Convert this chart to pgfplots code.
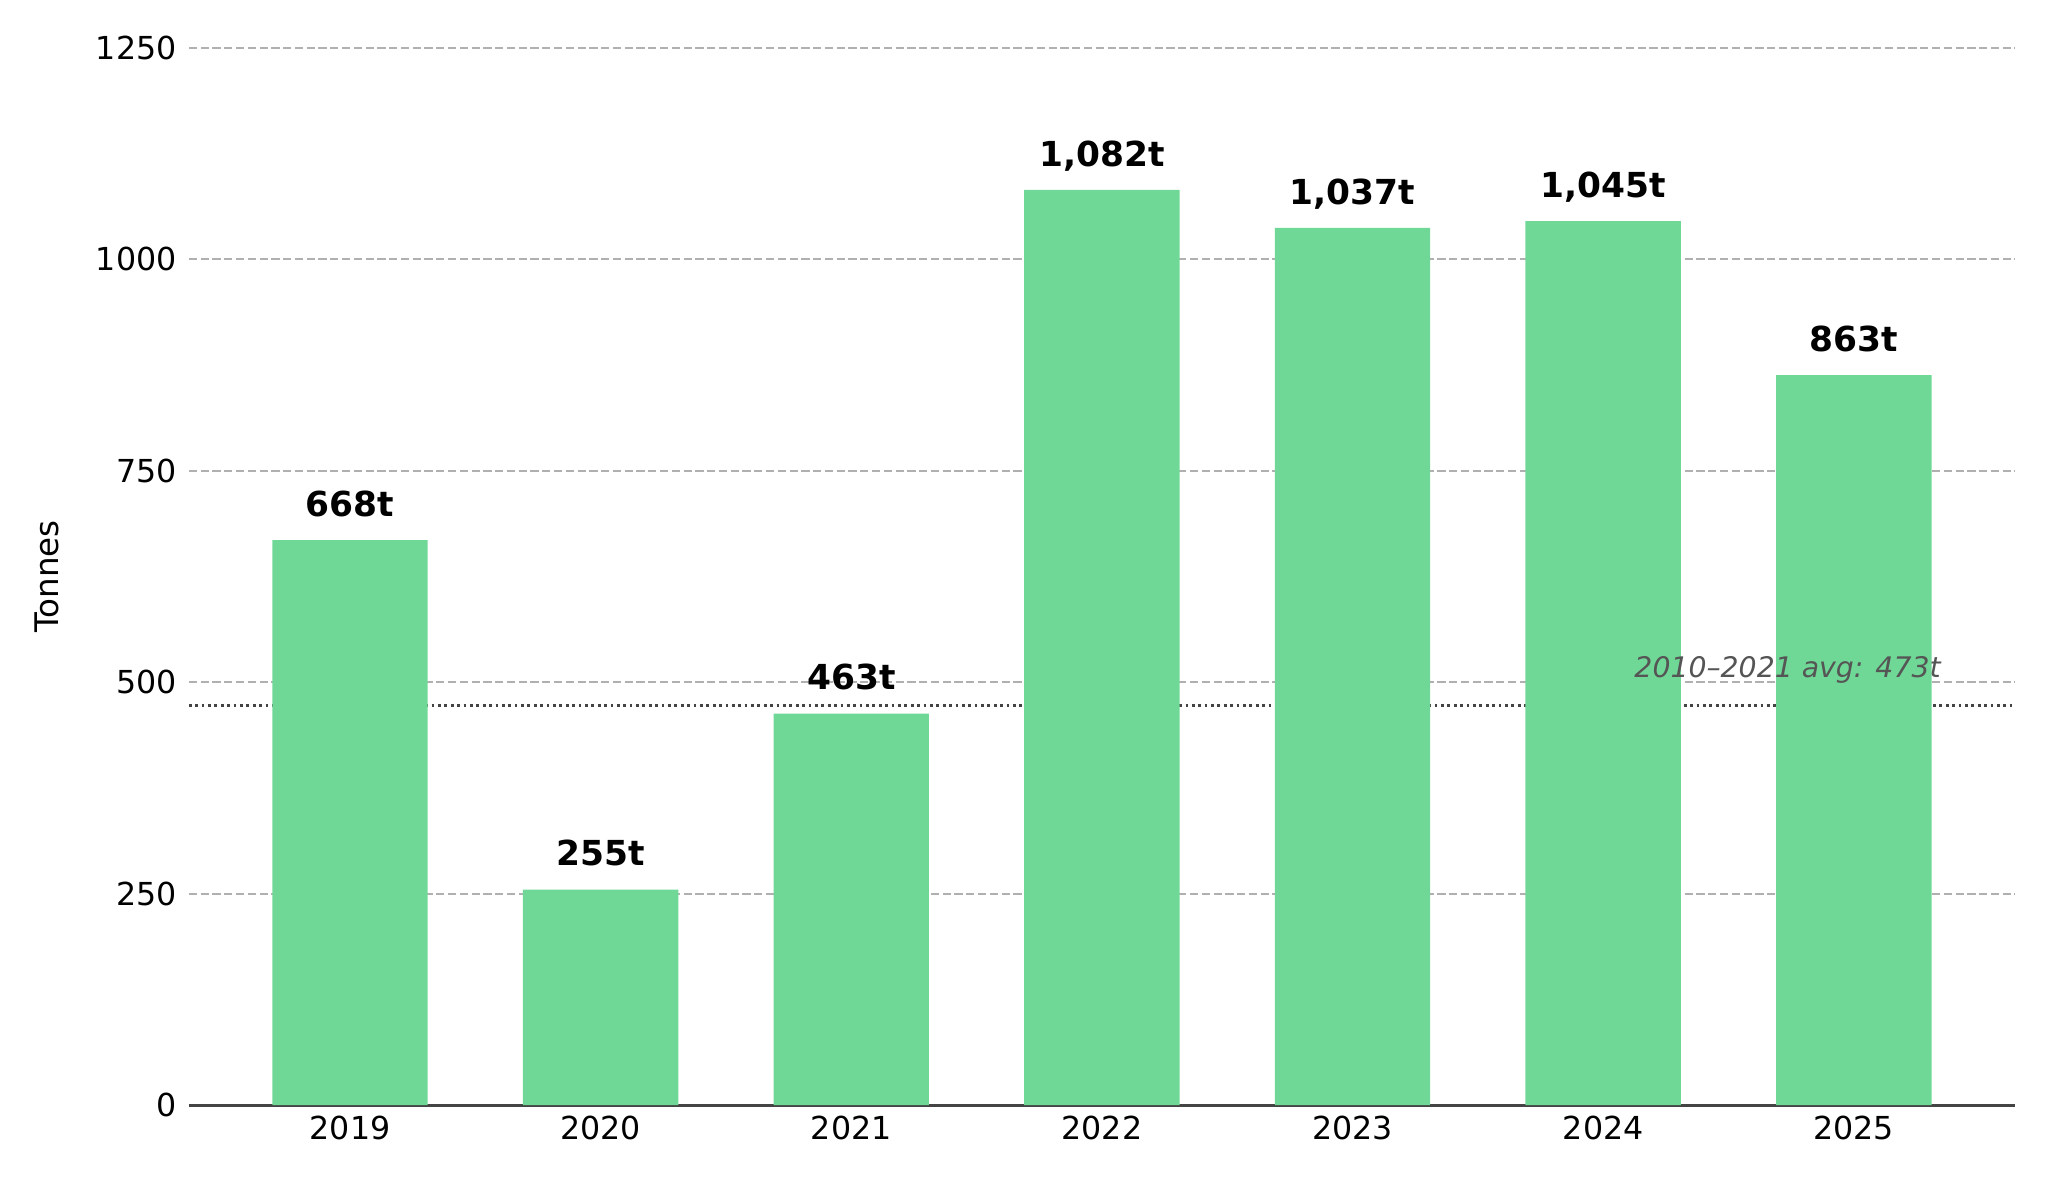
\documentclass[border=0pt]{standalone}
\usepackage{fontspec}
\setmainfont{DejaVu Sans}
\usepackage{pgfplots}
\pgfplotsset{compat=1.18}
\usepackage{pgfplotstable}
\definecolor{bargreen}{HTML}{70D896}
\definecolor{gridgray}{HTML}{B0B0B0}
\definecolor{avggray}{HTML}{444444}
\definecolor{txtgray}{HTML}{555555}
\definecolor{spine}{HTML}{444444}

\pgfplotstableread{
x y label
0 668 668t
1 255 255t
2 463 463t
3 1082 1,082t
4 1037 1,037t
5 1045 1,045t
6 863 863t
}\bardata

\pgfplotstableread{
x y
-0.643 473
6.643 473
}\avgdata

\begin{document}
\begin{tikzpicture}
\begin{axis}[
  scale only axis,
  width=657.4pt, height=380.7pt,
  xmin=-0.643, xmax=6.643,
  ymin=0, ymax=1250,
  xtick={0,1,2,3,4,5,6},
  xticklabels={2019,2020,2021,2022,2023,2024,2025},
  ytick={0,250,500,750,1000,1250},
  yticklabels={0,250,500,750,1000,1250},
  major tick length=0pt,
  axis x line*=bottom,
  axis y line*=left,
  x axis line style={draw=spine, line width=1pt, -},
  y axis line style={draw=none},
  ymajorgrids,
  grid style={draw=gridgray, line width=0.8pt, dash pattern=on 2.96pt off 1.28pt},
  ticklabel style={font=\fontsize{11.4}{13}\selectfont, text=black},
  yticklabel style={xshift=-0.9pt},
  xticklabel style={yshift=-0.3pt},
  ylabel={Tonnes},
  ylabel style={at={(axis description cs:-0.0775,0.5)}, anchor=center, rotate=0, font=\fontsize{11.7}{14}\selectfont},
]
\addplot[draw=avggray, line width=1.1pt, dash pattern=on 1pt off 1.3pt] table[x=x, y=y] {\avgdata};
\addplot[ybar, bar width=0.62, bar shift=0pt, fill=bargreen, draw=none,
  point meta=explicit symbolic,
  nodes near coords,
  every node near coord/.append style={anchor=base, yshift=8.6pt, font=\bfseries\fontsize{12.4}{14}\selectfont, text=black}]
  table[x=x, y=y, meta=label] {\bardata};
\node[anchor=base east, inner sep=0pt, font=\itshape\fontsize{10.2}{12}\selectfont, text=txtgray] at (axis cs:6.349,505.8) {2010–2021 avg: 473t};
\end{axis}
\pgfresetboundingbox
\path ([shift={(-68pt,-28pt)}]current axis.south west) rectangle ([shift={(11.9pt,17.2pt)}]current axis.north east);
\end{tikzpicture}
\end{document}
